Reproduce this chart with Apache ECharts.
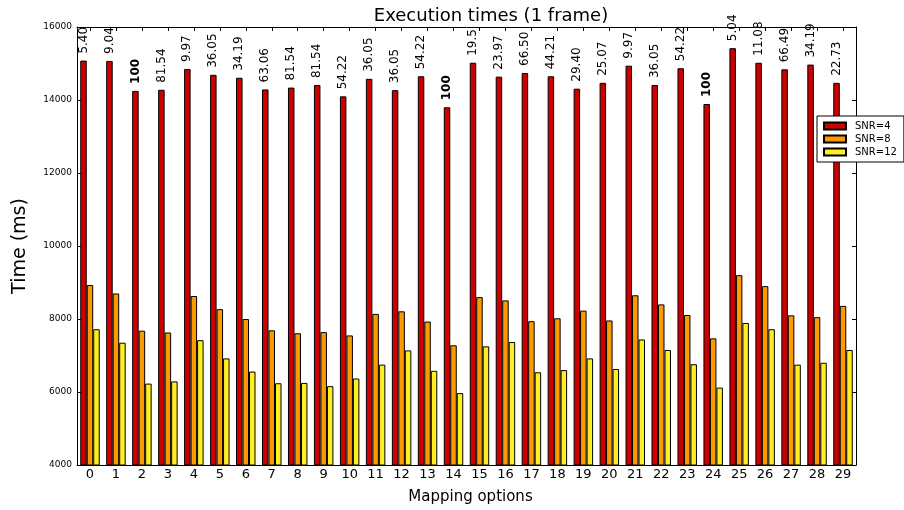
<!DOCTYPE html>
<html>
<head>
<meta charset="utf-8">
<script src="https://cdn.jsdelivr.net/npm/echarts@6/dist/echarts.min.js"></script>
<style>
  html, body { margin: 0; padding: 0; background: #ffffff; }
  #chart { width: 904px; height: 510px; }
</style>
</head>
<body>
<div id="chart"></div>
<script>
// Mapping option indices along the x axis
const categories = ['0','1','2','3','4','5','6','7','8','9','10','11','12','13','14',
                    '15','16','17','18','19','20','21','22','23','24','25','26','27','28','29'];

// Execution time per mapping option (ms), one array per SNR setting
const snr4 = [15080, 15070, 14250, 14280, 14850, 14690, 14610, 14290, 14340, 14410,
              14100, 14580, 14270, 14650, 13800, 15020, 14640, 14740, 14650, 14310,
              14470, 14940, 14410, 14870, 13890, 15420, 15020, 14840, 14970, 14470];
const snr8 = [8930, 8700, 7680, 7630, 8630, 8270, 8000, 7690, 7610, 7640,
              7550, 8140, 8210, 7930, 7280, 8600, 8510, 7940, 8020, 8230,
              7960, 8650, 8400, 8110, 7470, 9200, 8900, 8100, 8050, 8360];
const snr12 = [7720, 7350, 6230, 6290, 7420, 6920, 6560, 6240, 6250, 6160,
               6370, 6750, 7140, 6580, 5970, 7250, 7370, 6540, 6600, 6920,
               6630, 7440, 7150, 6760, 6120, 7890, 7720, 6750, 6800, 7150];

// Annotations printed above the SNR=4 bars
const annotations = ['5.40', '9.04', '100', '81.54', '9.97', '36.05', '34.19', '63.06', '81.54', '81.54',
                     '54.22', '36.05', '36.05', '54.22', '100', '19.5', '23.97', '66.50', '44.21', '29.40',
                     '25.07', '9.97', '36.05', '54.22', '100', '5.04', '11.08', '66.49', '34.19', '22.73'];

// Value axis range and step
const yMin = 4000, yMax = 16000, yStep = 2000;

const seriesNames = ['SNR=4', 'SNR=8', 'SNR=12'];
const seriesColors = ['#cc0000', '#ff9900', '#ffee22'];

const FONT = 'DejaVu Sans';

const chart = echarts.init(document.getElementById('chart'), null, { renderer: 'canvas' });

const grid = { left: 77, right: 48, top: 27, bottom: 45, containLabel: false, outerBoundsMode: 'none' };

function barSeries(idx, values) {
  const s = {
    name: seriesNames[idx],
    type: 'bar',
    barWidth: '25%',
    barGap: '0%',
    barCategoryGap: '25%',
    itemStyle: { color: seriesColors[idx], borderColor: '#000000', borderWidth: 1 },
    emphasis: { disabled: true },
    animation: false,
    data: values.slice()
  };
  if (idx === 0) {
    s.data = values.map((v, i) => ({
      value: v,
      label: {
        show: true,
        formatter: annotations[i],
        fontWeight: annotations[i] === '100' ? 'bold' : 'normal'
      }
    }));
    s.label = {
      show: true,
      position: 'top',
      rotate: 90,
      align: 'left',
      verticalAlign: 'middle',
      distance: 5,
      offset: [2, 0],
      color: '#000000',
      fontFamily: FONT,
      fontSize: 12
    };
    s.z = 3;
  }
  return s;
}

const option = {
  backgroundColor: '#ffffff',
  animation: false,
  textStyle: { fontFamily: FONT },
  title: {
    text: 'Execution times (1 frame)',
    left: 486,
    textAlign: 'center',
    top: 2,
    textStyle: { fontFamily: FONT, fontSize: 18, fontWeight: 'normal', color: '#000000' }
  },
  legend: {
    orient: 'vertical',
    left: 817,
    top: 116,
    itemWidth: 22,
    itemHeight: 7,
    itemGap: 3,
    padding: [5, 7, 5, 6],
    backgroundColor: '#ffffff',
    borderColor: '#000000',
    borderWidth: 1,
    icon: 'rect',
    data: seriesNames,
    textStyle: { fontFamily: FONT, fontSize: 10, color: '#000000', padding: [0, 0, 0, 4] },
    z: 10
  },
  grid: grid,
  xAxis: [
    {
      type: 'category',
      data: categories,
      position: 'bottom',
      boundaryGap: true,
      name: 'Mapping options',
      nameLocation: 'middle',
      nameGap: 25,
      nameTextStyle: { fontFamily: FONT, fontSize: 15, color: '#000000', padding: [0, 0, 0, 8] },
      axisLine: { show: true, lineStyle: { color: '#000000', width: 1 } },
      axisTick: { show: true, inside: true, alignWithLabel: true, length: 4, lineStyle: { color: '#000000' } },
      axisLabel: { fontFamily: FONT, fontSize: 13, color: '#000000', margin: 3, interval: 0 },
      splitLine: { show: false }
    },
    {
      type: 'category',
      data: categories,
      position: 'top',
      boundaryGap: true,
      axisLine: { show: true, lineStyle: { color: '#000000', width: 1 } },
      axisTick: { show: true, inside: true, alignWithLabel: true, length: 4, lineStyle: { color: '#000000' } },
      axisLabel: { show: false },
      splitLine: { show: false }
    }
  ],
  yAxis: [
    {
      type: 'value',
      min: yMin,
      max: yMax,
      interval: yStep,
      position: 'left',
      name: 'Time (ms)',
      nameLocation: 'middle',
      nameGap: 47,
      nameTextStyle: { fontFamily: FONT, fontSize: 19, color: '#000000' },
      axisLine: { show: true, lineStyle: { color: '#000000', width: 1 } },
      axisTick: { show: true, inside: true, length: 4, lineStyle: { color: '#000000' } },
      axisLabel: { fontFamily: FONT, fontSize: 9, color: '#000000', margin: 5, formatter: (v) => String(v) },
      splitLine: { show: false }
    },
    {
      type: 'value',
      min: yMin,
      max: yMax,
      interval: yStep,
      position: 'right',
      axisLine: { show: true, lineStyle: { color: '#000000', width: 1 } },
      axisTick: { show: true, inside: true, length: 4, lineStyle: { color: '#000000' } },
      axisLabel: { show: false },
      splitLine: { show: false }
    }
  ],
  series: [
    barSeries(0, snr4),
    barSeries(1, snr8),
    barSeries(2, snr12)
  ]
};

chart.setOption(option);
</script>
</body>
</html>
